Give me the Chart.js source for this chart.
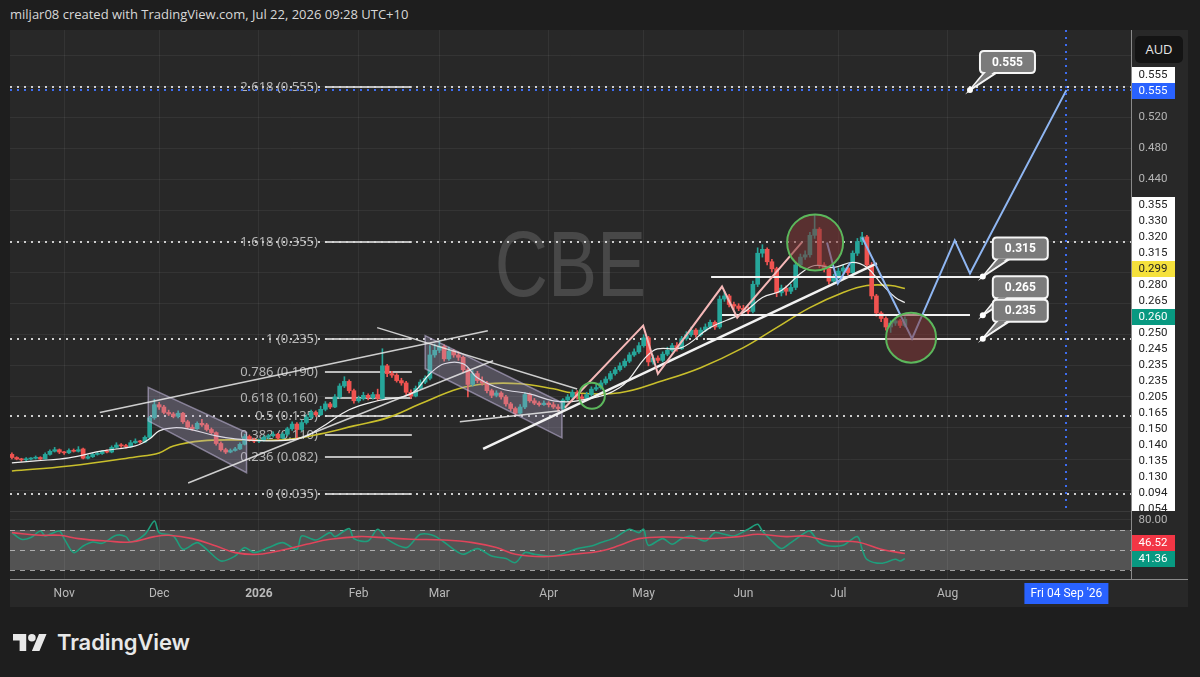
<!DOCTYPE html>
<html><head><meta charset="utf-8">
<script src="https://cdn.jsdelivr.net/npm/chart.js@4.4.1/dist/chart.umd.min.js"></script>
<style>
html,body{margin:0;padding:0;background:#1e1e1e;width:1200px;height:677px;overflow:hidden;}
#hdr{position:absolute;left:10px;top:5px;font:13px "Open Sans",sans-serif;color:#d8d8d8;white-space:nowrap;}
#frame{position:absolute;left:10px;top:30px;width:1178px;height:577px;background:#282828;}
canvas{position:absolute;}
#main{left:10px;top:30px;}
#rsi{left:10px;top:511px;}
.sep{position:absolute;background:#8a8a8a;}
#aud{position:absolute;left:1135px;top:36px;width:48px;height:27px;background:#141414;border-radius:5px;color:#e6e6e6;font:13px "Open Sans",sans-serif;text-align:center;line-height:27px;}
#logo{position:absolute;left:13px;top:630px;height:24px;display:flex;align-items:center;}
#logo span{font:600 22px Inter,"Open Sans",sans-serif;color:#e8e8e8;margin-left:10px;letter-spacing:-0.1px;}
</style></head>
<body>
<div id="hdr">miljar08 created with TradingView.com, Jul 22, 2026 09:28 UTC+10</div>
<div id="frame"></div>
<canvas id="main" width="1178" height="481"></canvas>
<canvas id="rsi" width="1178" height="96"></canvas>
<div class="sep" style="left:10px;top:511px;width:1121px;height:1px;background:#3a3a3a"></div>
<div class="sep" style="left:1131px;top:30px;width:1px;height:549px"></div>
<div class="sep" style="left:10px;top:579px;width:1178px;height:1px"></div>
<div id="aud">AUD</div>
<div id="logo"><svg width="34" height="17" viewBox="0 4 36 18"><path fill="#e8e8e8" d="M14 22H7V11H0V4h14v18zM28 22h-8l7.5-18h8L28 22z"/><circle fill="#e8e8e8" cx="20" cy="8" r="4"/></svg><span>TradingView</span></div>
<script>
// ---------------- DATA ----------------
const opens = [0.086,0.082,0.080,0.079,0.080,0.081,0.082,0.080,0.086,0.090,0.092,0.089,0.088,0.091,0.090,0.093,0.081,0.083,0.086,0.087,
0.090,0.089,0.095,0.098,0.097,0.096,0.101,0.103,0.102,0.108,0.133,0.150,0.147,0.140,0.138,0.135,0.139,0.128,0.121,0.119,
0.126,0.124,0.118,0.114,0.100,0.092,0.089,0.091,0.093,0.099,0.109,0.105,0.103,0.104,0.108,0.110,0.112,0.107,0.112,0.119,
0.125,0.118,0.127,0.134,0.140,0.137,0.144,0.151,0.147,0.160,0.174,0.180,0.168,0.155,0.158,0.162,0.159,0.163,0.158,0.200,
0.190,0.188,0.181,0.178,0.166,0.161,0.171,0.179,0.184,0.214,0.220,0.225,0.209,0.219,0.214,0.211,0.195,0.176,0.190,0.181,
0.178,0.168,0.162,0.165,0.160,0.151,0.145,0.139,0.147,0.163,0.155,0.152,0.150,0.152,0.150,0.147,0.145,0.156,0.160,0.166,
0.160,0.158,0.163,0.170,0.172,0.178,0.183,0.190,0.195,0.200,0.206,0.214,0.218,0.226,0.236,0.205,0.210,0.207,0.215,0.220,
0.226,0.222,0.235,0.240,0.246,0.240,0.246,0.250,0.256,0.250,0.286,0.290,0.279,0.277,0.274,0.272,0.270,0.305,0.345,0.350,
0.334,0.325,0.294,0.300,0.296,0.301,0.330,0.340,0.343,0.368,0.376,0.330,0.325,0.309,0.315,0.322,0.326,0.320,0.345,0.360,
0.366,0.330,0.290,0.268,0.261,0.250,0.255,0.258,0.252];
const highs = [0.088,0.083,0.081,0.082,0.082,0.084,0.083,0.088,0.092,0.095,0.093,0.090,0.093,0.093,0.096,0.094,0.085,0.088,0.089,0.091,
0.092,0.097,0.101,0.100,0.099,0.104,0.106,0.104,0.110,0.135,0.157,0.153,0.149,0.143,0.140,0.142,0.140,0.130,0.124,0.128,
0.131,0.126,0.120,0.115,0.102,0.094,0.093,0.095,0.101,0.112,0.111,0.107,0.106,0.110,0.112,0.115,0.113,0.114,0.121,0.128,
0.127,0.130,0.137,0.143,0.142,0.148,0.154,0.153,0.163,0.177,0.186,0.182,0.170,0.161,0.166,0.164,0.166,0.170,0.222,0.202,
0.193,0.190,0.184,0.180,0.169,0.174,0.182,0.187,0.226,0.228,0.232,0.227,0.224,0.221,0.218,0.213,0.197,0.194,0.193,0.186,
0.180,0.170,0.168,0.167,0.162,0.153,0.147,0.150,0.166,0.165,0.158,0.154,0.155,0.154,0.153,0.150,0.158,0.163,0.169,0.168,
0.163,0.166,0.173,0.176,0.181,0.186,0.193,0.198,0.204,0.209,0.217,0.222,0.230,0.240,0.238,0.214,0.213,0.218,0.224,0.229,
0.230,0.238,0.244,0.250,0.248,0.249,0.254,0.259,0.258,0.290,0.296,0.292,0.282,0.280,0.278,0.276,0.309,0.352,0.356,0.352,
0.337,0.327,0.304,0.303,0.305,0.334,0.344,0.348,0.372,0.394,0.378,0.333,0.327,0.318,0.326,0.330,0.329,0.348,0.364,0.372,
0.368,0.333,0.292,0.270,0.263,0.258,0.262,0.260,0.263];
const lows = [0.080,0.079,0.077,0.078,0.079,0.080,0.079,0.080,0.085,0.089,0.087,0.086,0.087,0.089,0.089,0.080,0.080,0.082,0.085,0.086,
0.088,0.088,0.094,0.095,0.094,0.095,0.100,0.100,0.101,0.106,0.131,0.144,0.138,0.136,0.133,0.133,0.126,0.119,0.117,0.118,
0.122,0.116,0.112,0.098,0.090,0.087,0.088,0.090,0.092,0.098,0.103,0.101,0.101,0.103,0.106,0.108,0.105,0.106,0.110,0.117,
0.105,0.116,0.125,0.132,0.135,0.136,0.142,0.145,0.146,0.158,0.172,0.165,0.152,0.153,0.156,0.156,0.157,0.155,0.157,0.186,
0.185,0.179,0.175,0.163,0.158,0.160,0.170,0.177,0.182,0.211,0.217,0.206,0.207,0.211,0.207,0.192,0.160,0.174,0.178,0.175,
0.165,0.159,0.160,0.157,0.148,0.142,0.136,0.138,0.145,0.153,0.150,0.148,0.149,0.147,0.145,0.142,0.143,0.154,0.158,0.157,
0.156,0.156,0.161,0.168,0.170,0.176,0.181,0.188,0.193,0.198,0.204,0.212,0.216,0.224,0.200,0.202,0.204,0.205,0.213,0.218,
0.219,0.221,0.233,0.238,0.237,0.238,0.244,0.248,0.247,0.248,0.283,0.276,0.273,0.271,0.268,0.266,0.268,0.302,0.340,0.330,
0.321,0.289,0.290,0.291,0.293,0.298,0.327,0.337,0.340,0.364,0.326,0.321,0.305,0.306,0.312,0.319,0.317,0.318,0.342,0.356,
0.326,0.286,0.264,0.257,0.246,0.243,0.252,0.249,0.250];
const closes = [0.082,0.080,0.079,0.080,0.081,0.082,0.080,0.086,0.090,0.092,0.089,0.088,0.091,0.090,0.092,0.081,0.083,0.086,0.087,0.090,
0.089,0.095,0.098,0.097,0.096,0.101,0.103,0.102,0.108,0.133,0.150,0.147,0.140,0.138,0.135,0.139,0.128,0.121,0.119,0.126,
0.124,0.118,0.114,0.100,0.092,0.089,0.091,0.093,0.099,0.109,0.105,0.103,0.104,0.108,0.110,0.112,0.107,0.112,0.119,0.125,
0.118,0.127,0.134,0.140,0.137,0.144,0.151,0.147,0.160,0.174,0.180,0.168,0.155,0.158,0.162,0.159,0.163,0.158,0.200,0.190,
0.188,0.181,0.178,0.166,0.161,0.171,0.179,0.184,0.214,0.220,0.225,0.209,0.219,0.214,0.211,0.195,0.176,0.190,0.181,0.178,
0.168,0.162,0.165,0.160,0.151,0.145,0.139,0.147,0.163,0.155,0.152,0.150,0.152,0.150,0.147,0.145,0.156,0.160,0.166,0.160,
0.158,0.163,0.170,0.172,0.178,0.183,0.190,0.195,0.200,0.206,0.214,0.218,0.226,0.236,0.205,0.210,0.207,0.215,0.220,0.226,
0.222,0.235,0.240,0.246,0.240,0.246,0.250,0.256,0.250,0.286,0.290,0.279,0.277,0.274,0.272,0.270,0.305,0.345,0.350,0.334,
0.325,0.294,0.300,0.296,0.301,0.330,0.340,0.343,0.368,0.376,0.330,0.325,0.309,0.315,0.322,0.326,0.320,0.345,0.360,0.366,
0.330,0.290,0.268,0.261,0.250,0.255,0.258,0.252,0.260];

const maSlowBars = [0,12,26,31,34,40,48,57,65,72,79,86,94,100,107,114,118,128,137,145,154,161,168,175,180,185,188];
const maSlowVals = [0.0647,0.0711,0.0827,0.0879,0.0969,0.1034,0.1047,0.1047,0.1124,0.1227,0.133,0.1511,0.1705,0.1769,0.1769,0.1705,0.1653,0.1653,0.1808,0.1976,0.2234,0.2492,0.275,0.2944,0.3034,0.3034,0.2995];
const maFastBars = [0,5,12,19,26,29,31,34,37,43,47,54,61,65,71,77,84,88,91,95,98,103,109,114,119,128,135,141,147,154,158,162,166,169,173,177,180,183,186,188];
const maFastVals = [0.075,0.0776,0.0815,0.0905,0.0969,0.106,0.1163,0.1202,0.1189,0.1098,0.106,0.1034,0.1073,0.1202,0.1434,0.155,0.164,0.1898,0.2027,0.2027,0.1847,0.1705,0.164,0.155,0.155,0.172,0.2195,0.2234,0.2492,0.2685,0.2879,0.297,0.3189,0.3292,0.3266,0.3331,0.3266,0.306,0.2879,0.2815];

const rsiBars = [0,2,4,6,7,8,10,11,13,15,17,19,22,24,25,28,30,31,34,36,39,41,44,47,49,51,54,57,60,61,64,67,68,71,72,75,77,79,83,86,89,93,95,98,101,104,106,108,110,114,117,119,122,124,127,130,132,133,134,137,139,141,143,146,148,150,152,155,157,158,160,162,164,167,168,170,172,175,178,179,180,183,186,187,188];
const rsiVals = [67.4,60.7,62.4,69,64,65.7,69,61.4,47.4,54,58,56.7,64.7,63.4,58,65.7,79,67.4,64,50.7,57.4,50.7,39,44,52.4,47.4,52.4,57.4,50.7,64,60,67.4,63.4,71.4,61.4,59,70.7,60.7,52.4,65.7,64,50.7,45.7,51.4,44,41.4,37.4,47.4,45.7,44,48,51.4,54,57.4,62.4,70.7,67.4,70.7,54.7,61.4,55.7,61.4,64,59,67.4,65.7,64,70.7,75.7,69,59,51.4,57.4,67.4,69,57.4,54,54.7,63.4,50.7,40.7,36.7,40.7,39,41.4];
const rsiMaBars = [0,6,10,14,20,25,30,33,38,43,47,52,57,62,67,73,78,84,91,97,102,106,112,118,124,128,132,138,146,153,157,163,167,172,178,183,188];
const rsiMaVals = [67.4,64.7,64.7,61.4,59,58,63.4,64.7,61.4,54,47.4,45.7,50,55.7,60.7,63.4,62.4,60.7,60,57.4,52.4,45.7,43.4,45.7,49,54.7,61.4,63,61.4,63.4,65.7,63.4,64,59,58,50.7,46.5];
const rsiLabels = ['46.52','41.36'];
const rsiLevels = [70,50,30];

const monthTickIdx = [11,31,52,73,90,113,133,154,174,197];
const monthTickLabels = ['Nov','Dec','2026','Feb','Mar','Apr','May','Jun','Jul','Aug'];
const gridPrices = [0.04,0.08,0.12,0.16,0.20,0.24,0.28,0.32,0.36,0.40,0.44,0.48,0.52,0.56,0.60];
const priceTickVals = [0.52,0.48,0.44];
const priceTickLabels = ['0.520','0.480','0.440'];
const stackLabels = ['0.355','0.330','0.320','0.315','0.299','0.280','0.265','0.260','0.250','0.245','0.235','0.235','0.205','0.165','0.150','0.140','0.135','0.130','0.094','0.054'];
const rsiTickVals = [80];
const rsiTickLabels = ['80.00'];

const fibRatios = ['2.618','1.618','1','0.786','0.618','0.5','0.382','0.236','0'];
const fibPrices = [0.559,0.359,0.235,0.1922,0.1586,0.135,0.1114,0.0822,0.035];
const fibPriceText = ['0.555','0.355','0.235','0.190','0.160','0.135','0.110','0.082','0.035'];
const fibBars = [65.9,84.2];
const extendedLevels = [0.559,0.359,0.235,0.135,0.035];

const channel1 = [[28.7,0.1722],[49.4,0.1141],[49.4,0.0624],[28.7,0.1292]];
const channel2 = [[87,0.2389],[115.8,0.1524],[115.8,0.1073],[87,0.1963]];
const thinLines = [[[18.5,0.1399],[100.2,0.2453]],[[37.1,0.0492],[101.3,0.2066]],[[76.9,0.2492],[119,0.1701]],[[94.3,0.1279],[115.4,0.1421]]];
const thickLines = [[[99.2,0.0931],[182.1,0.3318]]];
const levelLines = [[147.2,203.8,0.315],[149.5,201.7,0.265],[146.3,201.7,0.235]];
const pinkPath = [[116.4,0.146],[132.9,0.2518],[136,0.1898],[149.5,0.3021],[152.7,0.2621],[166.3,0.3589]];
const bluePath1 = [[171.6,0.3589],[173.9,0.306],[176.5,0.333]];
const bluePath2 = [[179,0.3653],[189.5,0.235],[198.5,0.3615],[201.7,0.3189],[222,0.555]];
const circles = [[169.1,0.3589,28,true],[189.3,0.2363,25,true],[122.1,0.1615,13,false]];
const calloutBars = [204.4,204.4,204.4,201.7];
const calloutVals = [0.315,0.265,0.235,0.555];
const calloutText = ['0.315','0.265','0.235','0.555'];
const crossBar = 222, crossPrice = 0.555, crossDateText = "Fri 04 Sep '26";
const watermark = 'CBE';

// ---------------- CHARTS ----------------
const UP = '#26a69a', DN = '#ef5350';
const idx = closes.map((_, i) => i);
const colors = idx.map(i => closes[i] >= opens[i] ? UP : DN);
const GRID = 'rgba(255,255,255,0.06)';

function dotted(ctx, x1, y1, x2, y2, color, w) {
  ctx.save(); ctx.strokeStyle = color; ctx.lineWidth = w || 2; ctx.setLineDash([2, 5]);
  ctx.beginPath(); ctx.moveTo(x1, y1); ctx.lineTo(x2, y2); ctx.stroke(); ctx.restore();
}
function rrect(ctx, x, y, w, h, r) {
  ctx.beginPath(); ctx.moveTo(x + r, y); ctx.lineTo(x + w - r, y); ctx.quadraticCurveTo(x + w, y, x + w, y + r);
  ctx.lineTo(x + w, y + h - r); ctx.quadraticCurveTo(x + w, y + h, x + w - r, y + h); ctx.lineTo(x + r, y + h);
  ctx.quadraticCurveTo(x, y + h, x, y + h - r); ctx.lineTo(x, y + r); ctx.quadraticCurveTo(x, y, x + r, y); ctx.closePath();
}
function axisBox(ctx, cx, cy, text, bg, fg) {
  ctx.fillStyle = bg;
  ctx.fillRect(cx - 21, cy - 8, 43, 16);
  ctx.fillStyle = fg; ctx.font = '11.5px Roboto, sans-serif'; ctx.textAlign = 'center'; ctx.textBaseline = 'middle';
  ctx.fillText(text, cx, cy + 0.5);
}

const mainPlugin = {
  id: 'mainDraw',
  beforeDatasetsDraw(chart) {
    const { ctx, chartArea: a, scales: { x, y } } = chart;
    const X = v => x.getPixelForValue(v), Y = v => y.getPixelForValue(v);
    ctx.save();
    ctx.beginPath(); ctx.rect(a.left, a.top, a.right - a.left, a.bottom - a.top); ctx.clip();
    ctx.save();
    ctx.fillStyle = 'rgba(255,255,255,0.15)';
    ctx.font = '92px "Liberation Sans", sans-serif';
    ctx.textAlign = 'center'; ctx.textBaseline = 'middle';
    ctx.translate((a.left + a.right) / 2, (a.top + a.bottom) / 2);
    ctx.scale(0.8, 1);
    ctx.fillText(watermark, 0, 0);
    ctx.restore();
    extendedLevels.forEach(p => dotted(ctx, a.left, Math.round(Y(p)), a.right, Math.round(Y(p)), 'rgba(235,235,235,0.85)'));
    fibPrices.forEach((p, k) => {
      const yy = Math.round(Y(p));
      const x1 = X(fibBars[0]), x2 = X(fibBars[1]);
      ctx.strokeStyle = 'rgba(215,215,215,0.85)'; ctx.lineWidth = 2;
      ctx.beginPath(); ctx.moveTo(x1, yy); ctx.lineTo(x2, yy); ctx.stroke();
      ctx.fillStyle = 'rgba(195,195,195,0.9)'; ctx.font = '13px "Noto Sans", sans-serif';
      ctx.textAlign = 'right'; ctx.textBaseline = 'middle';
      ctx.fillText(fibRatios[k] + ' (' + fibPriceText[k] + ')', x1 - 7, yy);
    });
    ctx.restore();
  },
  afterDatasetsDraw(chart) {
    const { ctx, chartArea: a, scales: { x, y } } = chart;
    const X = v => x.getPixelForValue(v), Y = v => y.getPixelForValue(v);
    ctx.save();
    ctx.beginPath(); ctx.rect(a.left, a.top, a.right - a.left, a.bottom - a.top); ctx.clip();
    [channel1, channel2].forEach(ch => {
      ctx.beginPath(); ch.forEach((pt, k) => k ? ctx.lineTo(X(pt[0]), Y(pt[1])) : ctx.moveTo(X(pt[0]), Y(pt[1]))); ctx.closePath();
      ctx.fillStyle = 'rgba(175,165,200,0.32)'; ctx.fill();
      ctx.strokeStyle = 'rgba(200,190,225,0.55)'; ctx.lineWidth = 1.5; ctx.stroke();
    });
    ctx.strokeStyle = 'rgba(235,235,235,0.85)'; ctx.lineWidth = 1.5;
    thinLines.forEach(l => { ctx.beginPath(); ctx.moveTo(X(l[0][0]), Y(l[0][1])); ctx.lineTo(X(l[1][0]), Y(l[1][1])); ctx.stroke(); });
    ctx.strokeStyle = '#f2f2f2'; ctx.lineWidth = 2.5;
    thickLines.forEach(l => { ctx.beginPath(); ctx.moveTo(X(l[0][0]), Y(l[0][1])); ctx.lineTo(X(l[1][0]), Y(l[1][1])); ctx.stroke(); });
    ctx.lineWidth = 2;
    levelLines.forEach(l => { const yy = Math.round(Y(l[2])); ctx.beginPath(); ctx.moveTo(X(l[0]), yy); ctx.lineTo(X(l[1]), yy); ctx.stroke(); });
    const path = (pts, col) => { ctx.strokeStyle = col; ctx.lineWidth = 2; ctx.lineJoin = 'miter'; ctx.beginPath(); pts.forEach((pt, k) => k ? ctx.lineTo(X(pt[0]), Y(pt[1])) : ctx.moveTo(X(pt[0]), Y(pt[1]))); ctx.stroke(); };
    path(pinkPath, '#f5b8b8');
    path(bluePath1, '#8fb6f2');
    path(bluePath2, '#8fb6f2');
    circles.forEach(c => {
      ctx.beginPath(); ctx.arc(X(c[0]), Y(c[1]), c[2], 0, Math.PI * 2);
      if (c[3]) { ctx.fillStyle = 'rgba(130,55,55,0.55)'; ctx.fill(); }
      ctx.strokeStyle = '#5cb85c'; ctx.lineWidth = 2; ctx.stroke();
    });
    dotted(ctx, Math.round(X(crossBar)), a.top, Math.round(X(crossBar)), a.bottom, '#3d6cf0', 2);
    dotted(ctx, a.left, Math.round(Y(crossPrice)), a.right, Math.round(Y(crossPrice)), '#3d6cf0', 2);
    calloutBars.forEach((b, k) => {
      const ax = X(b), ay = Y(calloutVals[k]);
      const bx = ax + 10, by = ay - 39, bw = 55, bh = 22;
      ctx.fillStyle = '#7b7b7b'; ctx.strokeStyle = '#f5f5f5'; ctx.lineWidth = 2;
      ctx.beginPath(); ctx.moveTo(ax, ay); ctx.lineTo(bx + 4, by + bh); ctx.lineTo(bx + 16, by + bh); ctx.closePath();
      ctx.fill(); ctx.stroke();
      rrect(ctx, bx, by, bw, bh, 4); ctx.fill(); ctx.stroke();
      ctx.beginPath(); ctx.moveTo(ax + 3, ay - 3); ctx.lineTo(bx + 6, by + bh - 1); ctx.lineTo(bx + 14, by + bh - 1); ctx.closePath(); ctx.fill();
      ctx.beginPath(); ctx.arc(ax, ay, 3, 0, Math.PI * 2); ctx.fillStyle = '#fff'; ctx.fill();
      ctx.fillStyle = '#fff'; ctx.font = 'bold 12px Roboto, sans-serif'; ctx.textAlign = 'center'; ctx.textBaseline = 'middle';
      ctx.fillText(calloutText[k], bx + bw / 2, by + bh / 2 + 0.5);
    });
    ctx.restore();
  },
  afterDraw(chart) {
    const { ctx, chartArea: a, scales: { y } } = chart;
    const cx = a.right + 22;
    ctx.save();
    ctx.font = '11.5px Roboto, sans-serif'; ctx.textAlign = 'center'; ctx.textBaseline = 'middle';
    ctx.fillStyle = 'rgba(205,205,205,0.85)';
    priceTickVals.forEach((v, k) => ctx.fillText(priceTickLabels[k], cx, y.getPixelForValue(v)));
    const yc = Math.round(y.getPixelForValue(crossPrice));
    axisBox(ctx, cx, yc - 15, fibPriceText[0], '#ffffff', '#222');
    axisBox(ctx, cx, yc + 1, crossPrice.toFixed(3), '#2962ff', '#fff');
    ctx.beginPath(); ctx.rect(a.right, a.top, 80, a.bottom - a.top); ctx.clip();
    stackLabels.forEach((t, k) => {
      const cy = 175 + k * 16;
      let bg = '#ffffff', fg = '#222';
      if (t === '0.299') { bg = '#f5e13c'; }
      if (t === '0.260') { bg = '#089981'; fg = '#fff'; }
      axisBox(ctx, cx, cy, t, bg, fg);
    });
    ctx.restore();
  }
};

const rsiPlugin = {
  id: 'rsiDraw',
  beforeDatasetsDraw(chart) {
    const { ctx, chartArea: a, scales: { y } } = chart;
    ctx.save();
    const y70 = y.getPixelForValue(rsiLevels[0]), y30 = y.getPixelForValue(rsiLevels[2]);
    ctx.fillStyle = 'rgba(255,255,255,0.2)'; ctx.fillRect(a.left, y70, a.right - a.left, y30 - y70);
    ctx.strokeStyle = 'rgba(225,225,225,0.65)'; ctx.lineWidth = 1; ctx.setLineDash([5, 5]);
    rsiLevels.forEach(l => { const yy = Math.round(y.getPixelForValue(l)) + 0.5; ctx.beginPath(); ctx.moveTo(a.left, yy); ctx.lineTo(a.right, yy); ctx.stroke(); });
    ctx.restore();
  },
  afterDraw(chart) {
    const { ctx, chartArea: a, scales: { x, y } } = chart;
    const cx = a.right + 22;
    ctx.save();
    ctx.font = '11.5px Roboto, sans-serif'; ctx.textAlign = 'center'; ctx.textBaseline = 'middle';
    ctx.fillStyle = 'rgba(205,205,205,0.85)';
    rsiTickVals.forEach((v, k) => ctx.fillText(rsiTickLabels[k], cx, y.getPixelForValue(v)));
    const yg = Math.round(y.getPixelForValue(parseFloat(rsiLabels[1])));
    axisBox(ctx, cx, yg, rsiLabels[1], '#089981', '#fff');
    axisBox(ctx, cx, yg - 16, rsiLabels[0], '#f23645', '#fff');
    const xc = x.getPixelForValue(crossBar);
    ctx.fillStyle = '#2962ff'; ctx.fillRect(xc - 42, a.bottom + 4, 84, 21);
    ctx.fillStyle = '#fff'; ctx.font = '12px Roboto, sans-serif';
    ctx.fillText(crossDateText, xc, a.bottom + 15);
    ctx.restore();
  }
};

const xCommon = {
  type: 'linear', min: -0.4, max: 235.6, bounds: 'data', offset: false,
  afterBuildTicks: s => { s.ticks = monthTickIdx.map(v => ({ value: v })); },
  grid: { color: GRID, drawTicks: false, offset: false }, border: { display: false }
};

new Chart(document.getElementById('main'), {
  data: {
    datasets: [
      { type: 'line', data: maSlowBars.map((b, k) => ({ x: b, y: maSlowVals[k] })), borderColor: '#c9bf2c', borderWidth: 1.6, pointRadius: 0, tension: 0.4, order: 3 },
      { type: 'bar', data: idx.map(i => ({ x: i, y: [lows[i], highs[i]] })), backgroundColor: colors, barThickness: 1, grouped: false, order: 2 },
      { type: 'bar', data: idx.map(i => ({ x: i, y: [opens[i], closes[i]] })), backgroundColor: colors, barThickness: 4, minBarLength: 1, grouped: false, order: 1 },
      { type: 'line', data: maFastBars.map((b, k) => ({ x: b, y: maFastVals[k] })), borderColor: '#f0f0f0', borderWidth: 1.2, pointRadius: 0, tension: 0.4, order: 0 }
    ]
  },
  options: {
    responsive: false, animation: false, devicePixelRatio: 1,
    layout: { padding: 0 },
    plugins: { legend: { display: false }, tooltip: { enabled: false } },
    scales: {
      x: Object.assign({}, xCommon, { ticks: { display: false }, afterFit: s => { s.height = 0; } }),
      y: {
        type: 'linear', position: 'right', min: 0.0131, max: 0.6324, bounds: 'data',
        afterBuildTicks: s => { s.ticks = gridPrices.map(v => ({ value: v })); },
        ticks: { display: false }, grid: { color: GRID, drawTicks: false }, border: { display: false },
        afterFit: s => { s.width = 57; }
      }
    }
  },
  plugins: [mainPlugin]
});

new Chart(document.getElementById('rsi'), {
  type: 'line',
  data: {
    datasets: [
      { data: rsiMaBars.map((b, k) => ({ x: b, y: rsiMaVals[k] })), borderColor: '#e0455b', borderWidth: 1.6, pointRadius: 0, tension: 0.4 },
      { data: rsiBars.map((b, k) => ({ x: b, y: rsiVals[k] })), borderColor: '#1f9e7c', borderWidth: 1.6, pointRadius: 0, tension: 0.3 }
    ]
  },
  options: {
    responsive: false, animation: false, devicePixelRatio: 1,
    layout: { padding: 0 },
    plugins: { legend: { display: false }, tooltip: { enabled: false } },
    scales: {
      x: Object.assign({}, xCommon, {
        ticks: {
          display: true, padding: 8, maxRotation: 0, autoSkip: false, color: 'rgba(205,205,205,0.88)',
          font: c => ({ family: 'Roboto, sans-serif', size: 12, weight: (c.tick && c.tick.value === monthTickIdx[2]) ? 'bold' : 'normal' }),
          callback: (v, i) => monthTickLabels[i]
        },
        afterFit: s => { s.height = 28; }
      }),
      y: {
        type: 'linear', position: 'right', min: 21, max: 89, bounds: 'data',
        afterBuildTicks: s => { s.ticks = rsiTickVals.map(v => ({ value: v })); },
        ticks: { display: false }, grid: { color: GRID, drawTicks: false }, border: { display: false },
        afterFit: s => { s.width = 57; }
      }
    }
  },
  plugins: [rsiPlugin]
});
</script>
</body></html>
